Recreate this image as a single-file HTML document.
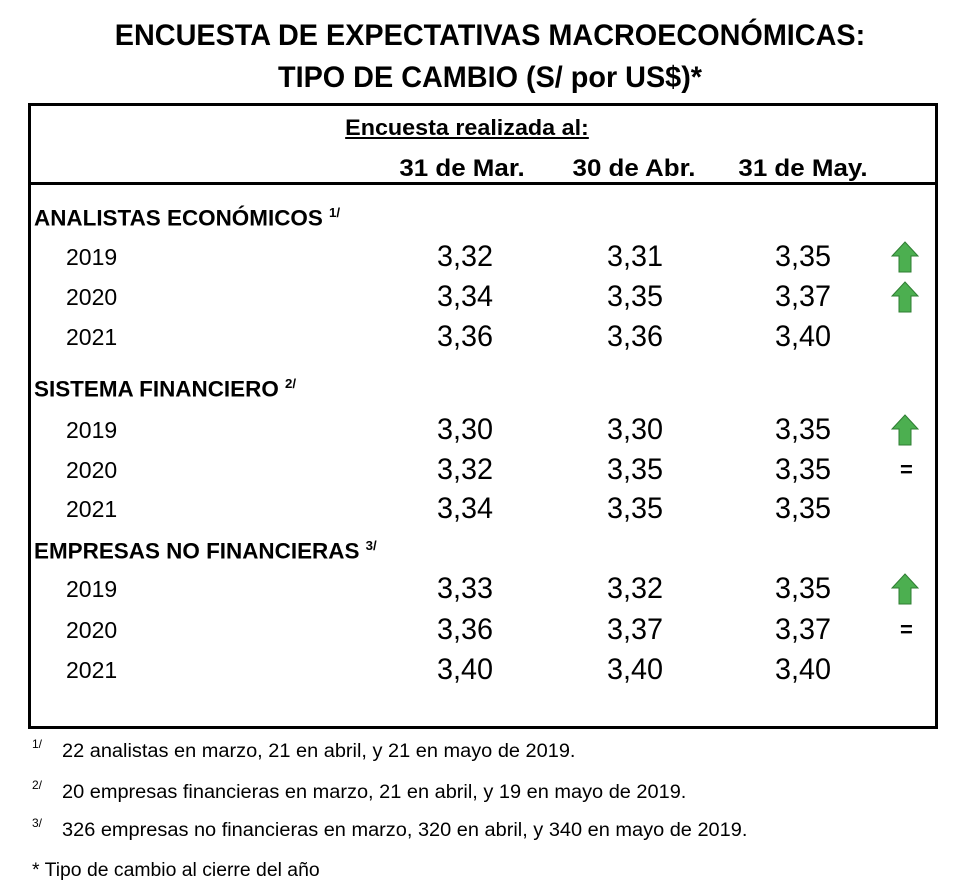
<!DOCTYPE html>
<html><head><meta charset="utf-8">
<style>
body{margin:0;width:980px;height:893px;background:#fff;position:relative;overflow:hidden;font-family:"Liberation Sans",sans-serif;color:#000}
.t{position:absolute;white-space:nowrap;line-height:1;transform-origin:0 50%}
.c{position:absolute;white-space:nowrap;line-height:1;text-align:center;width:300px}
.b{font-weight:bold}
.arrow{position:absolute;width:28px;height:32px}
.eq{position:absolute;font-weight:bold;font-size:22px;line-height:1}
</style></head><body>
<div class="c b" style="left:90px;width:800px;top:21px;font-size:30px;transform:scaleX(0.96)">ENCUESTA DE EXPECTATIVAS MACROECONÓMICAS:</div>
<div class="c b" style="left:90px;width:800px;top:63px;font-size:30px;transform:scaleX(0.96)">TIPO DE CAMBIO (S/ por US$)*</div>
<div style="position:absolute;left:28px;top:103px;width:904px;height:620px;border:3px solid #000"></div>
<div style="position:absolute;left:28px;top:182px;width:910px;height:3px;background:#000"></div>
<div class="c b" style="left:317px;top:117px;font-size:22px;text-decoration:underline;transform:scaleX(1.06)">Encuesta realizada al:</div>
<div class="c b" style="left:312px;top:157px;font-size:24px;transform:scaleX(1.08)">31 de Mar.</div>
<div class="c b" style="left:484px;top:157px;font-size:24px;transform:scaleX(1.08)">30 de Abr.</div>
<div class="c b" style="left:653px;top:157px;font-size:24px;transform:scaleX(1.08)">31 de May.</div>
<div id="rows"></div>
<div id="notes"></div>
<script>
const sections=[["ANALISTAS ECONÓMICOS","1/",217],["SISTEMA FINANCIERO","2/",388],["EMPRESAS NO FINANCIERAS","3/",550]];
const rows=[
["2019",["3,32","3,31","3,35"],"up",257],["2020",["3,34","3,35","3,37"],"up",297],["2021",["3,36","3,36","3,40"],"",337],
["2019",["3,30","3,30","3,35"],"up",430],["2020",["3,32","3,35","3,35"],"eq",470],["2021",["3,34","3,35","3,35"],"",509],
["2019",["3,33","3,32","3,35"],"up",589],["2020",["3,36","3,37","3,37"],"eq",630],["2021",["3,40","3,40","3,40"],"",670]];
const cols=[465,635,803];
const R=document.getElementById('rows');
sections.forEach(s=>{const d=document.createElement('div');d.className='t b';d.style.cssText=`left:34px;top:${s[2]-11}px;font-size:22px;transform:scaleX(1.02)`;d.innerHTML=s[0]+' <sup style="font-size:13px">'+s[1]+'</sup>';


R.appendChild(d);});
rows.forEach(r=>{const y=r[3];
const yl=document.createElement('div');yl.className='t';yl.style.cssText=`left:66px;top:${y-11}px;font-size:23px`;yl.textContent=r[0];


R.appendChild(yl);
r[1].forEach((v,i)=>{const d=document.createElement('div');d.className='c';d.style.cssText=`left:${cols[i]-150}px;top:${y-15}px;font-size:30px;transform:scaleX(0.96)`;d.textContent=v;


R.appendChild(d);});
if(r[2]==='up'){const a=document.createElementNS('http://www.w3.org/2000/svg','svg');a.setAttribute('class','arrow');a.setAttribute('viewBox','0 0 28 32');a.style.left='891px';a.style.top=(y-16)+'px';
a.innerHTML='<polygon points="14,1 27,15 20,15 20,31 8,31 8,15 1,15" fill="#4caf50" stroke="#2e7d32" stroke-width="1"/>';


R.appendChild(a);}
if(r[2]==='eq'){const e=document.createElement('div');e.className='eq';e.style.left='900px';e.style.top=(y-11)+'px';e.textContent='=';


R.appendChild(e);}
});
const notes=[["1/","22 analistas en marzo, 21 en abril, y 21 en mayo de 2019.",752],["2/","20 empresas financieras en marzo, 21 en abril, y 19 en mayo de 2019.",793],["3/","326 empresas no financieras en marzo, 320 en abril, y 340 en mayo de 2019.",831]];
const N=document.getElementById('notes');
notes.forEach(n=>{const s=document.createElement('div');s.className='t';s.style.cssText=`left:32px;top:${n[2]-14}px;font-size:12px`;s.textContent=n[0];


N.appendChild(s);
const d=document.createElement('div');d.className='t';d.style.cssText=`left:62px;top:${n[2]-10}px;font-size:19px;transform:scaleX(1.05)`;d.textContent=n[1];


N.appendChild(d);});
const f=document.createElement('div');f.className='t';f.style.cssText='left:32px;top:861px;font-size:19px;transform:scaleX(1.02)';f.textContent='* Tipo de cambio al cierre del año';


N.appendChild(f);
</script>
</body></html>
